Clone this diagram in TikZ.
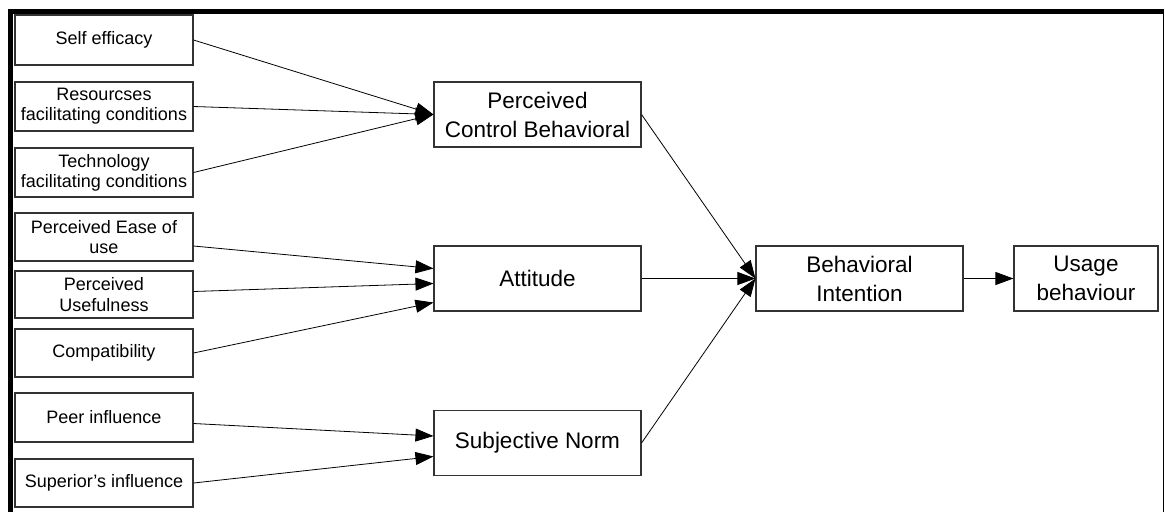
\documentclass[tikz,border=0pt]{standalone}
\usepackage{fontspec}
\setmainfont[Ligatures=NoCommon]{Liberation Sans}
\usetikzlibrary{arrows.meta}

\tikzset{
  factor/.style={draw=black!80, line width=1.1pt, fill=white, inner sep=0pt,
    minimum width=178pt, minimum height=48pt, align=center,
    font=\fontsize{18}{20.3}\selectfont},
  construct/.style={draw=black!80, line width=1.1pt, fill=white, inner sep=0pt,
    minimum width=207pt, minimum height=65pt, align=center,
    font=\fontsize{22.5}{29}\selectfont},
  link/.style={draw=black, line width=0.8pt,
    -{Triangle[length=18pt, width=13pt]}},
  frameline/.style={fill=black}
}

\begin{document}
\begin{tikzpicture}[x=1pt, y=-1pt]
  \useasboundingbox (0,0) rectangle (1165,512);

  % page frame
  \fill[frameline] (8,9) rectangle (1164,14);
  \fill[frameline] (8,9) rectangle (13,512);
  \draw[line width=1.2pt] (1163.4,9) -- (1163.4,512);

  % antecedent factors
  \node[factor, minimum height=50pt] (se) at (104,40)    {Self efficacy};
  \node[factor, minimum height=49pt] (rf) at (104,106.5) {Resourcses\\facilitating conditions};
  \node[factor, minimum height=49pt] (tf) at (104,172.5) {Technology\\facilitating conditions};
  \node[factor] (pe) at (104,237)   {Perceived Ease of\\use};
  \node[factor, minimum height=47pt] (pu) at (104,294.5) {Perceived\\Usefulness};
  \node[factor] (co) at (104,353)   {Compatibility};
  \node[factor, minimum height=49pt] (pi) at (104,417.5) {Peer influence};
  \node[factor] (si) at (104,483)   {Superior’s influence};

  % main constructs
  \node[construct] (pcb) at (537.5,114.5) {Perceived\\Control Behavioral};
  \node[construct] (att) at (537.5,278.5) {Attitude};
  \node[construct] (sn)  at (537.5,443)   {Subjective Norm};
  \node[construct] (bi)  at (859.5,278.5) {Behavioral\\Intention};
  \node[construct, minimum width=144pt] (ub) at (1086,278.5) {Usage\\behaviour};

  % factor links
  \draw[link] (se.east) -- (pcb.west);
  \draw[link] (rf.east) -- (pcb.west);
  \draw[link] (tf.east) -- (pcb.west);

  \draw[link] ([yshift=-9pt]pe.east) -- ([yshift=10pt]att.west);
  \draw[link] ([yshift=3pt]pu.east)  -- ([yshift=-5pt]att.west);
  \draw[link] (co.east)              -- ([yshift=-24pt]att.west);

  \draw[link] ([yshift=-6pt]pi.east) -- ([yshift=7pt]sn.west);
  \draw[link] (si.east)              -- ([yshift=-13.5pt]sn.west);

  % construct links
  \draw[link] (pcb.east) -- (bi.west);
  \draw[link] (att.east) -- (bi.west);
  \draw[link] (sn.east)  -- (bi.west);
  \draw[link] (bi.east)  -- (ub.west);
\end{tikzpicture}
\end{document}
